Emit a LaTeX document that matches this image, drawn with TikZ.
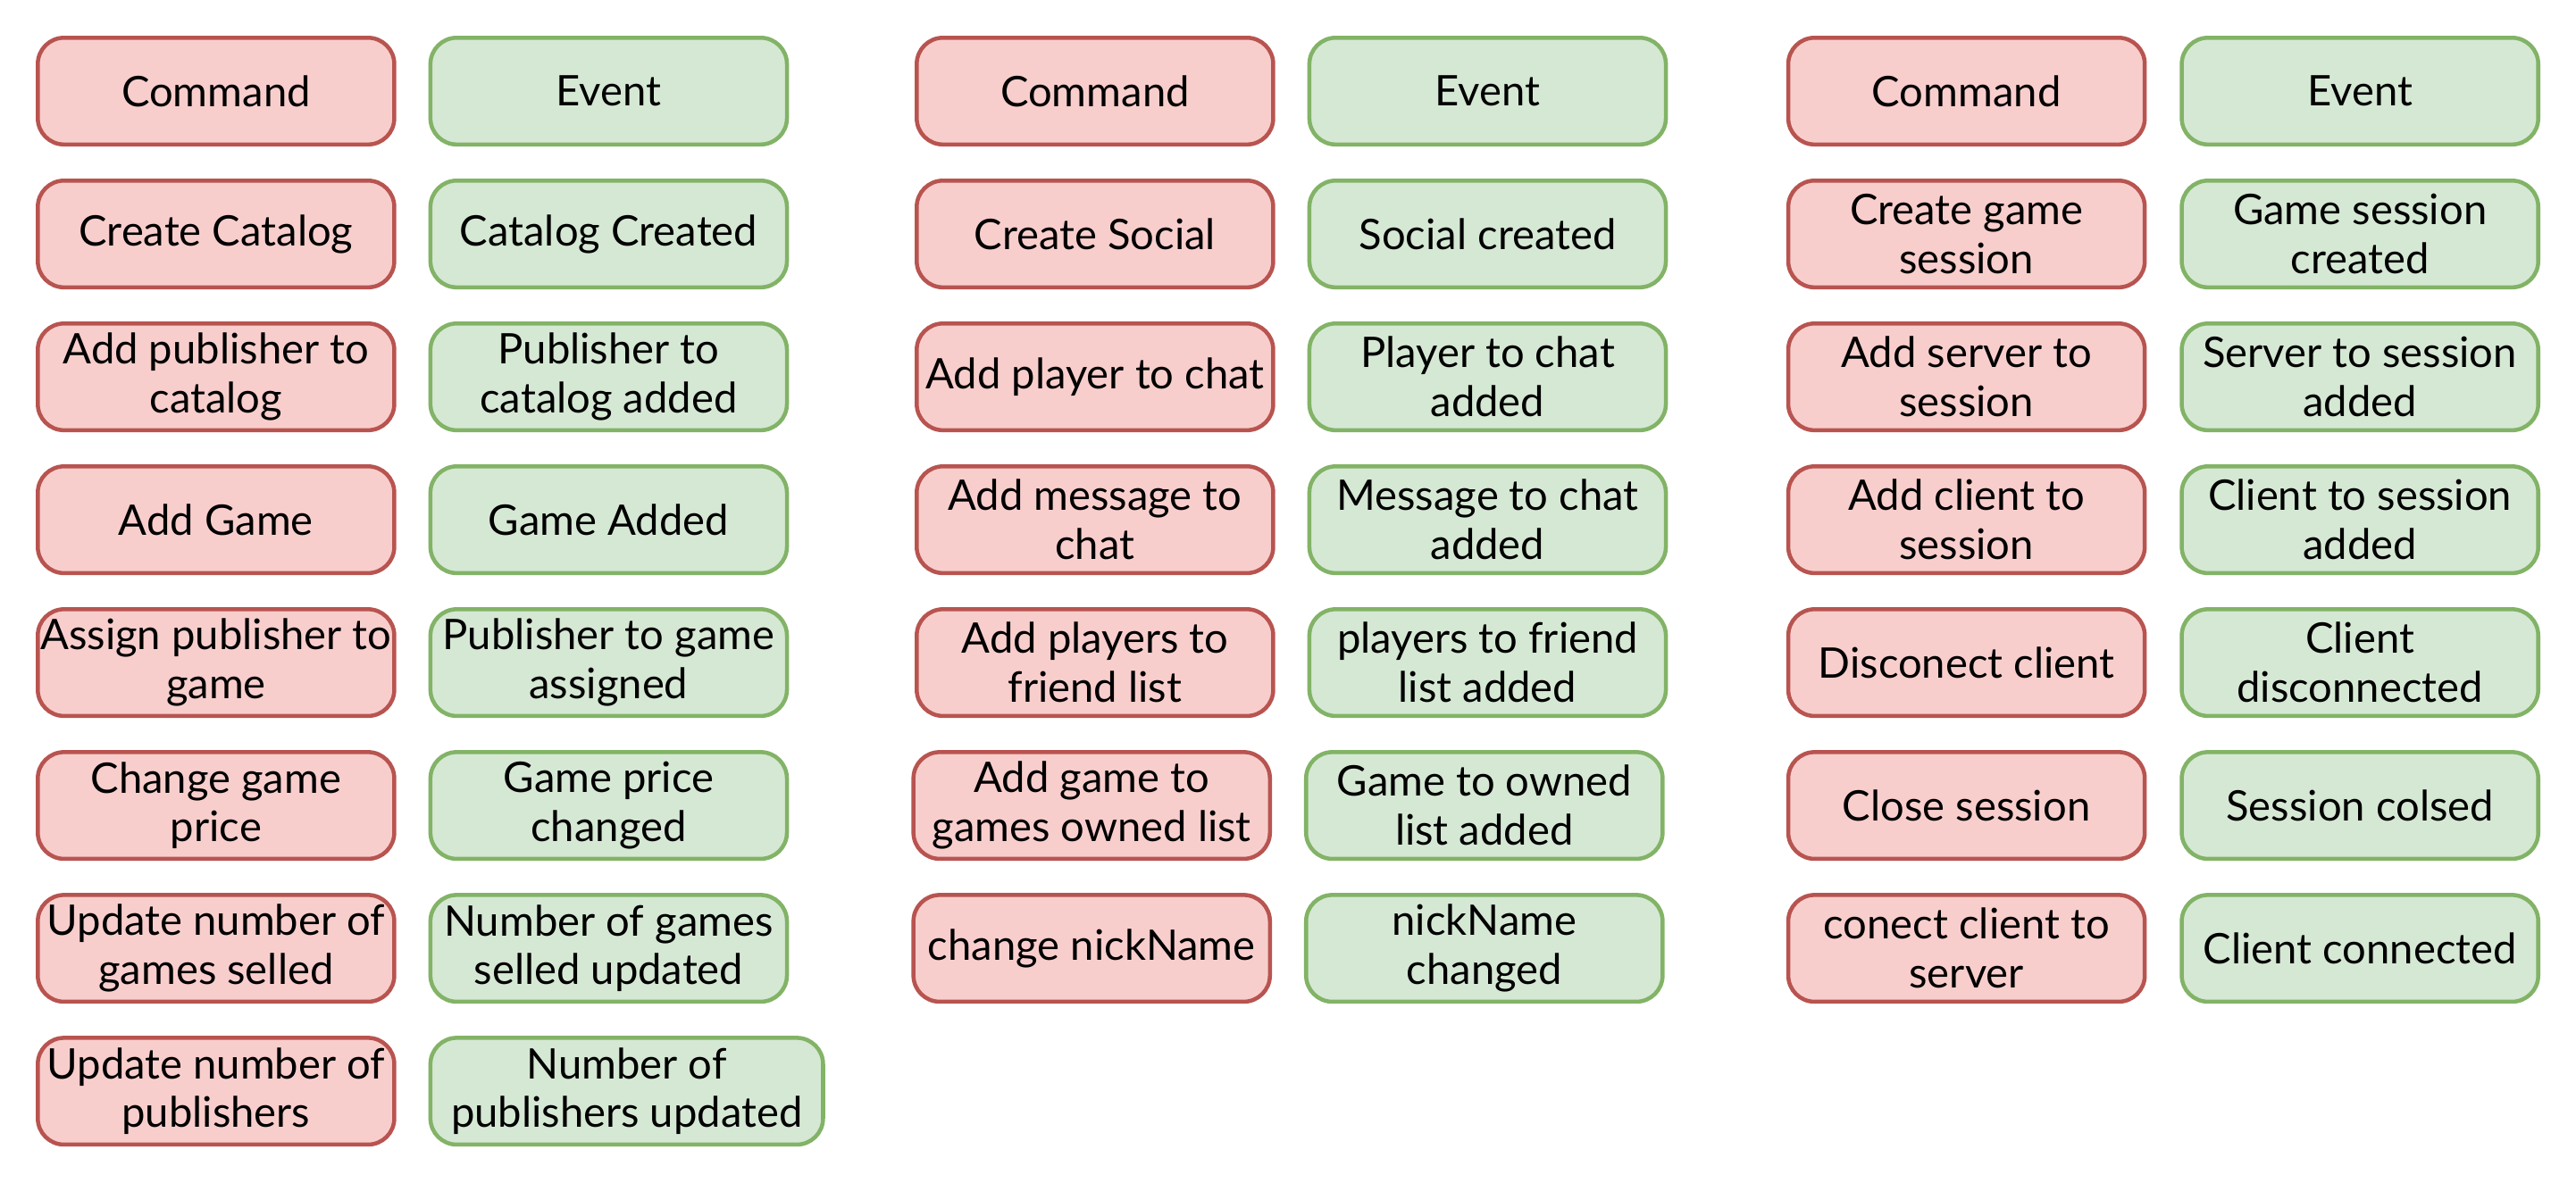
\documentclass[tikz,border=0pt]{standalone}
\usepackage{fontspec}
\setmainfont{Lato}
\usepackage{tikz}
\usetikzlibrary{positioning}
\definecolor{cmdfill}{HTML}{F8CECC}
\definecolor{cmddraw}{HTML}{B85450}
\definecolor{evtfill}{HTML}{D5E8D4}
\definecolor{evtdraw}{HTML}{82B366}
\tikzset{
    command element/.style={
        draw=cmddraw,line width=0.7pt,rounded corners=0.16cm,
        fill=cmdfill,
        minimum width=2.17cm,minimum height=0.65cm,inner sep=0pt,
        align=center,
        font=\fontsize{7.3}{8.5}\selectfont
    },
    event element/.style={
        draw=evtdraw,line width=0.7pt,rounded corners=0.16cm,
        fill=evtfill,
        minimum width=2.17cm,minimum height=0.65cm,inner sep=0pt,
        align=center,
        font=\fontsize{7.3}{8.5}\selectfont
    }
}
\begin{document}
\begin{tikzpicture}
\useasboundingbox (0,0) rectangle (15.68,-7.2);
% catalog
\foreach \i/\cmd/\evt in {0/Command/Event,1/Create Catalog/Catalog Created,2/Add publisher to\\catalog/Publisher to\\catalog added,3/Add Game/Game Added,4/Assign publisher to\\game/Publisher to game\\assigned,5/Change game\\price/Game price\\changed,6/Update number of\\games selled/Number of games\\selled updated}{
    \node[command element] (cmd_cat\i) at (1.315,-0.555-0.87*\i) {\cmd};
    \node[event element] (evt_cat\i) at (3.705,-0.555-0.87*\i) {\evt};
}
\node[command element] (cmd_cat7) at (1.315,-0.555-0.87*7) {Update number of\\publishers};
\node[event element,minimum width=2.39cm] (evt_cat7) at (3.815,-0.555-0.87*7) {Number of\\publishers updated};
% social
\foreach \i/\cmd/\evt in {0/Command/Event,1/Create Social/Social created,2/Add player to chat/Player to chat\\added,3/Add message to\\chat/Message to chat\\added,4/Add players to\\friend list/players to friend\\list added}{
    \node[command element] (cmd_soc\i) at (6.665,-0.555-0.87*\i) {\cmd};
    \node[event element] (evt_soc\i) at (9.055,-0.555-0.87*\i) {\evt};
}
\node[command element] (cmd_soc5) at (6.645,-0.555-0.87*5) {Add game to\\games owned list};
\node[event element] (evt_soc5) at (9.035,-0.555-0.87*5) {Game to owned\\list added};
\node[command element] (cmd_soc6) at (6.645,-0.555-0.87*6) {change nickName};
\node[event element] (evt_soc6) at (9.035,-0.555-0.87*6) {nickName\\changed};
% session
\foreach \i/\cmd/\evt in {0/Command/Event,1/Create game\\session/Game session\\created,2/Add server to\\session/Server to session\\added,3/Add client to\\session/Client to session\\added,4/Disconect client/Client\\disconnected,5/Close session/Session colsed,6/conect client to\\server/Client connected}{
    \node[command element] (cmd_ses\i) at (11.97,-0.555-0.87*\i) {\cmd};
    \node[event element] (evt_ses\i) at (14.365,-0.555-0.87*\i) {\evt};
}
\end{tikzpicture}
\end{document}
